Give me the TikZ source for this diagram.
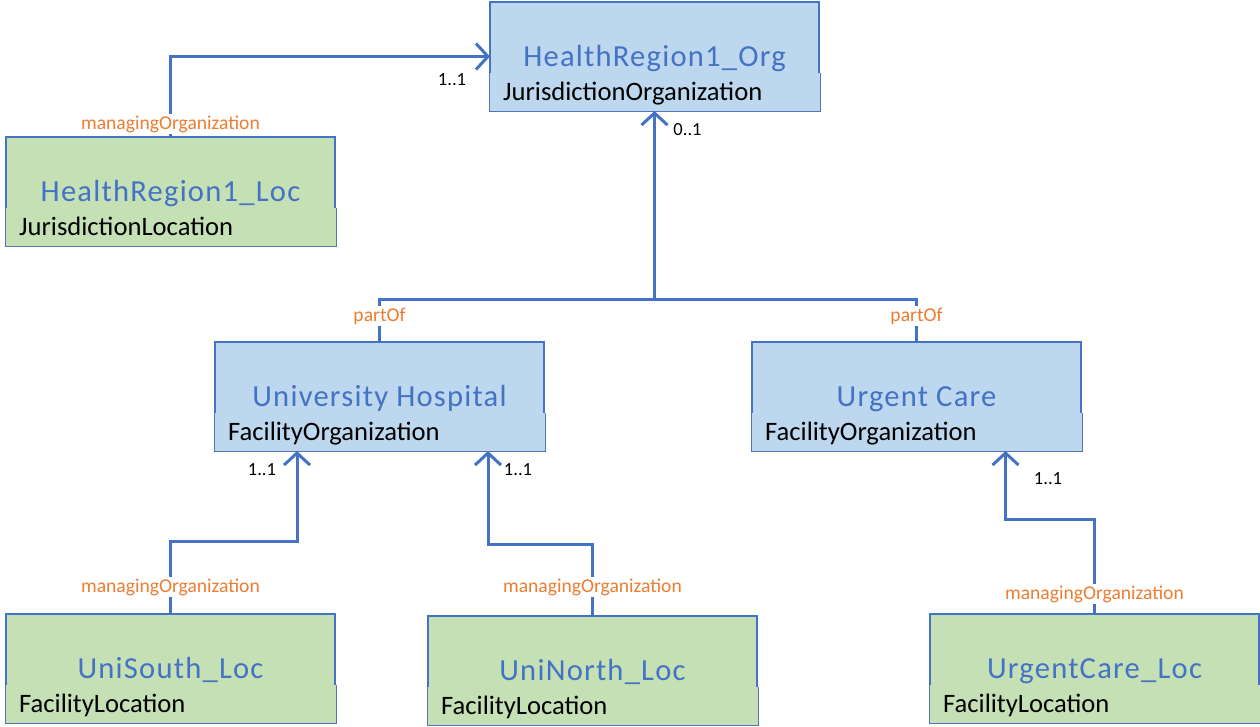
\documentclass[tikz,border=0pt]{standalone}
\usepackage{fontspec}
\setmainfont{Carlito}
\newfontfamily\titlefont{Carlito}[LetterSpace=4]
\usetikzlibrary{arrows.meta,calc}
\definecolor{lineblue}{HTML}{4472C4}
\definecolor{orgfill}{HTML}{BDD7EE}
\definecolor{locfill}{HTML}{C5E0B4}
\definecolor{lblorange}{HTML}{ED7D31}
\newcommand{\classbox}[5]{%
  \node[umlbox, fill=#2] (#1) at (#3) {};
  \node[substrip, fill=#2] (#1-s) at ([xshift=-1pt]#1.south west) {};
  \draw[stripedge] (#1-s.north west) -- (#1-s.south west) -- (#1-s.south east) -- (#1-s.north east);
  \node[boxtitle] (#1-t) at ([yshift=-64pt]#1.north) {#4};
  \node[boxsub] (#1-u) at ([xshift=13pt,yshift=11pt]#1.south west) {#5};
}
\begin{document}
\begin{tikzpicture}[x=1pt,y=-1pt,
  umlbox/.style={draw=lineblue, line width=2.6pt, anchor=north west, minimum width=329pt, minimum height=109pt, inner sep=0pt, outer sep=0pt},
  substrip/.style={anchor=south west, minimum width=331pt, minimum height=38pt, inner sep=0pt, outer sep=0pt},
  stripedge/.style={draw=lineblue!75!gray, line width=1pt},
  boxtitle/.style={font=\titlefont\fontsize{30.6}{33}\selectfont, text=lineblue, anchor=base, inner sep=0pt},
  boxsub/.style={font=\fontsize{26.6}{29}\selectfont, text=black, anchor=base west, inner sep=0pt},
  rolelabel/.style={font=\fontsize{19.6}{21}\selectfont, text=lblorange, fill=white, inner sep=1.5pt},
  multlabel/.style={font=\fontsize{18.5}{20}\selectfont, text=black, inner sep=0pt},
  conn/.style={draw=lineblue, line width=3pt},
  opentip/.style={-{Straight Barb[length=12pt,width=26pt]}},
]
\useasboundingbox (0,0) rectangle (1260,726);

\classbox{hro}{orgfill}{490,2}{HealthRegion1\_Org}{JurisdictionOrganization}
\classbox{hrl}{locfill}{6,137}{HealthRegion1\_Loc}{JurisdictionLocation}
\classbox{uh}{orgfill}{215,342}{University Hospital}{FacilityOrganization}
\classbox{uc}{orgfill}{752,342}{Urgent Care}{FacilityOrganization}
\classbox{us}{locfill}{6,614}{UniSouth\_Loc}{FacilityLocation}
\classbox{un}{locfill}{428,616}{UniNorth\_Loc}{FacilityLocation}
\classbox{ucl}{locfill}{930,614}{UrgentCare\_Loc}{FacilityLocation}

% HealthRegion1_Loc -> HealthRegion1_Org
\draw[conn, opentip] (hrl.north) |- (hro.west);
\node[rolelabel] (r1) at ([yshift=13pt]hrl.north) {managingOrganization};
\node[multlabel] (m1) at ([xshift=-38pt,yshift=-23pt]hro.west) {1..1};

% partOf
\draw[conn, opentip] (uh.north) -- ++(0,-43) coordinate (ja) -| (hro.south);
\draw[conn] (uc.north) -- ++(0,-43) -- (ja -| hro.south);
\node[rolelabel] (r2) at ([yshift=26pt]uh.north) {partOf};
\node[rolelabel] (r3) at ([yshift=26pt]uc.north) {partOf};
\node[multlabel] (m2) at ([xshift=33pt,yshift=-19pt]hro.south) {0..1};

% UniSouth -> University Hospital
\draw[conn, opentip] (us.north) -- ++(0,-73) -| ([xshift=-82.5pt]uh.south);
\node[rolelabel] (r4) at ([yshift=27pt]us.north) {managingOrganization};
\node[multlabel] (m3) at ([xshift=-117.5pt,yshift=-19pt]uh.south) {1..1};

% UniNorth -> University Hospital
\draw[conn, opentip] (un.north) -- ++(0,-72) -| ([xshift=108.5pt]uh.south);
\node[rolelabel] (r5) at ([yshift=29pt]un.north) {managingOrganization};
\node[multlabel] (m4) at ([xshift=138.5pt,yshift=-19pt]uh.south) {1..1};

% UrgentCare_Loc -> Urgent Care
\draw[conn, opentip] (ucl.north) -- ++(0,-95) -| ([xshift=89pt]uc.south);
\node[rolelabel] (r6) at ([yshift=20pt]ucl.north) {managingOrganization};
\node[multlabel] (m5) at ([xshift=131.5pt,yshift=-28pt]uc.south) {1..1};
\end{tikzpicture}
\end{document}
